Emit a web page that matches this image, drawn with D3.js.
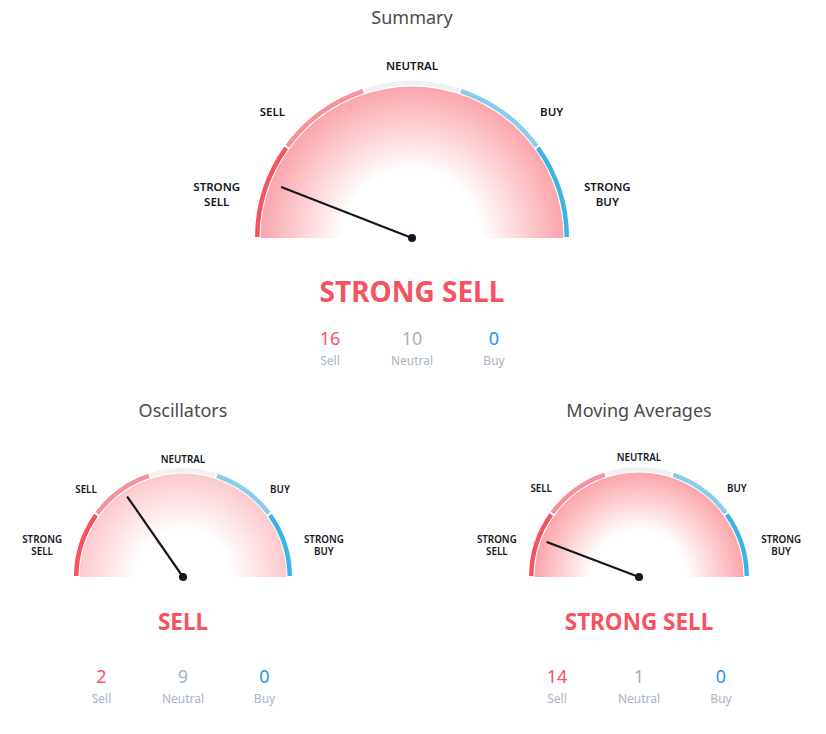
<!DOCTYPE html>
<html>
<head>
<meta charset="utf-8">
<script src="https://cdn.jsdelivr.net/npm/d3@7"></script>
<style>
  body { margin: 0; background: #fff; }
  svg { display: block; font-family: "Noto Sans", "DejaVu Sans", sans-serif; }
</style>
</head>
<body>
<svg id="chart" width="826" height="734"></svg>
<script>
// gauge data
const gaugeTitles = ['Summary', 'Oscillators', 'Moving Averages'];
const gaugeRatings = ['STRONG SELL', 'SELL', 'STRONG SELL'];
const needleValues = [-0.763, -0.386, -0.769];   // -1 = strong sell, 1 = strong buy
const sellCounts = [16, 2, 14];
const neutralCounts = [10, 9, 1];
const buyCounts = [0, 0, 0];
const zoneLabels = ['STRONG SELL', 'SELL', 'NEUTRAL', 'BUY', 'STRONG BUY'];
const countLabels = ['Sell', 'Neutral', 'Buy'];

const zoneColors = ['#f7525f', '#f6919c', '#eff0f3', '#88cdec', '#3bb3e4'];
const countColors = ['#f7525f', '#a3b3c4', '#2196f3'];

// layout of each gauge
const bigLabelR = [1.274, 1.197, 1.096, 1.197, 1.274];
const smallLabelR = [1.324, 1.197, 1.082, 1.197, 1.324];
const layouts = [
  { cx: 412, cy: 238, r: 157, titleY: 18, titleSize: 18, ratingY: 292, ratingSize: 28,
    numY: 339, numSize: 18, lblY: 361, lblSize: 12, zoneSize: 11.5, zoneLine: 14.5, spread: 82, labelR: bigLabelR },
  { cx: 183, cy: 577, r: 109, titleY: 411, titleSize: 18, ratingY: 622, ratingSize: 22.5,
    numY: 677, numSize: 18, lblY: 699, lblSize: 12, zoneSize: 9.8, zoneLine: 12.5, spread: 81.5, labelR: smallLabelR },
  { cx: 639, cy: 577, r: 110, titleY: 411, titleSize: 18, ratingY: 622, ratingSize: 22.5,
    numY: 677, numSize: 18, lblY: 699, lblSize: 12, zoneSize: 9.8, zoneLine: 12.5, spread: 82, labelR: smallLabelR }
];
// where the zone captions sit: angle from left side (deg)
const labelAngles = [12.5, 42, 90, 138, 167.5];

const svg = d3.select('#chart');
const defs = svg.append('defs');

const angle = d3.scaleLinear().domain([-1, 1]).range([-Math.PI / 2, Math.PI / 2]);
const zoneScale = d3.scaleBand().domain(zoneLabels).range([-Math.PI / 2, Math.PI / 2]).paddingInner(0);
const pinkMix = d3.interpolateRgb('#ffffff', '#f7525f');

layouts.forEach((L, i) => {
  const g = svg.append('g').attr('transform', 'translate(' + L.cx + ',' + L.cy + ')');
  const ringW = 4.5;

  // radial fill
  const gradId = 'grad' + i;
  const grad = defs.append('radialGradient')
    .attr('id', gradId)
    .attr('gradientUnits', 'userSpaceOnUse')
    .attr('cx', 0).attr('cy', 0).attr('r', L.r - ringW - 1);
  const edge = pinkMix(0.1 + 0.55 * Math.abs(needleValues[i]));
  grad.append('stop').attr('offset', 0).attr('stop-color', '#fff');
  grad.append('stop').attr('offset', 0.45).attr('stop-color', '#fff');
  grad.append('stop').attr('offset', 1).attr('stop-color', edge);

  g.append('path')
    .attr('d', d3.arc()({ innerRadius: 0, outerRadius: L.r - ringW - 1, startAngle: -Math.PI / 2, endAngle: Math.PI / 2 }))
    .attr('fill', 'url(#' + gradId + ')');

  // coloured zones
  const arc = d3.arc().innerRadius(L.r - ringW).outerRadius(L.r).padAngle(1.5 / L.r);
  g.selectAll('path.zone')
    .data(zoneLabels)
    .enter()
    .append('path')
    .attr('class', 'zone')
    .attr('d', d => arc({ startAngle: zoneScale(d), endAngle: zoneScale(d) + zoneScale.bandwidth() }))
    .attr('fill', (d, k) => zoneColors[k]);

  // zone captions, one text per line
  zoneLabels.forEach((lab, k) => {
    const a = (180 - labelAngles[k]) * Math.PI / 180;
    const rr = L.r * L.labelR[k];
    const x = Math.cos(a) * rr;
    const y = -Math.sin(a) * rr;
    const words = lab.split(' ');
    words.forEach((w, j) => {
      g.append('text')
        .attr('x', x)
        .attr('y', y + (j - (words.length - 1) / 2) * L.zoneLine)
        .attr('dy', '0.35em')
        .attr('text-anchor', 'middle')
        .attr('font-size', L.zoneSize)
        .attr('font-weight', 600)
        .attr('fill', '#131722')
        .text(w);
    });
  });

  // needle
  const a = angle(needleValues[i]);
  const len = L.r * 0.89;
  g.append('line')
    .attr('x1', 0).attr('y1', 0)
    .attr('x2', Math.sin(a) * len).attr('y2', -Math.cos(a) * len)
    .attr('stroke', '#131722')
    .attr('stroke-width', 2.2)
    .attr('stroke-linecap', 'round');
  g.append('circle').attr('r', 4).attr('fill', '#131722');

  // title
  svg.append('text')
    .attr('x', L.cx).attr('y', L.titleY)
    .attr('dy', '0.35em')
    .attr('text-anchor', 'middle')
    .attr('font-size', L.titleSize)
    .attr('fill', '#4a4a4a')
    .text(gaugeTitles[i]);

  // rating
  svg.append('text')
    .attr('x', L.cx).attr('y', L.ratingY)
    .attr('dy', '0.35em')
    .attr('text-anchor', 'middle')
    .attr('font-size', L.ratingSize)
    .attr('font-weight', 'bold')
    .attr('fill', '#f7525f')
    .text(gaugeRatings[i]);

  // counts
  const counts = [sellCounts[i], neutralCounts[i], buyCounts[i]];
  const cxScale = d3.scalePoint().domain(countLabels).range([L.cx - L.spread, L.cx + L.spread]);
  countLabels.forEach((c, k) => {
    svg.append('text')
      .attr('x', cxScale(c)).attr('y', L.numY)
      .attr('dy', '0.35em')
      .attr('text-anchor', 'middle')
      .attr('font-size', L.numSize)
      .attr('fill', countColors[k])
      .text(counts[k]);
    svg.append('text')
      .attr('x', cxScale(c)).attr('y', L.lblY)
      .attr('dy', '0.35em')
      .attr('text-anchor', 'middle')
      .attr('font-size', L.lblSize)
      .attr('fill', '#a8b4c4')
      .text(c);
  });
});
</script>
</body>
</html>
